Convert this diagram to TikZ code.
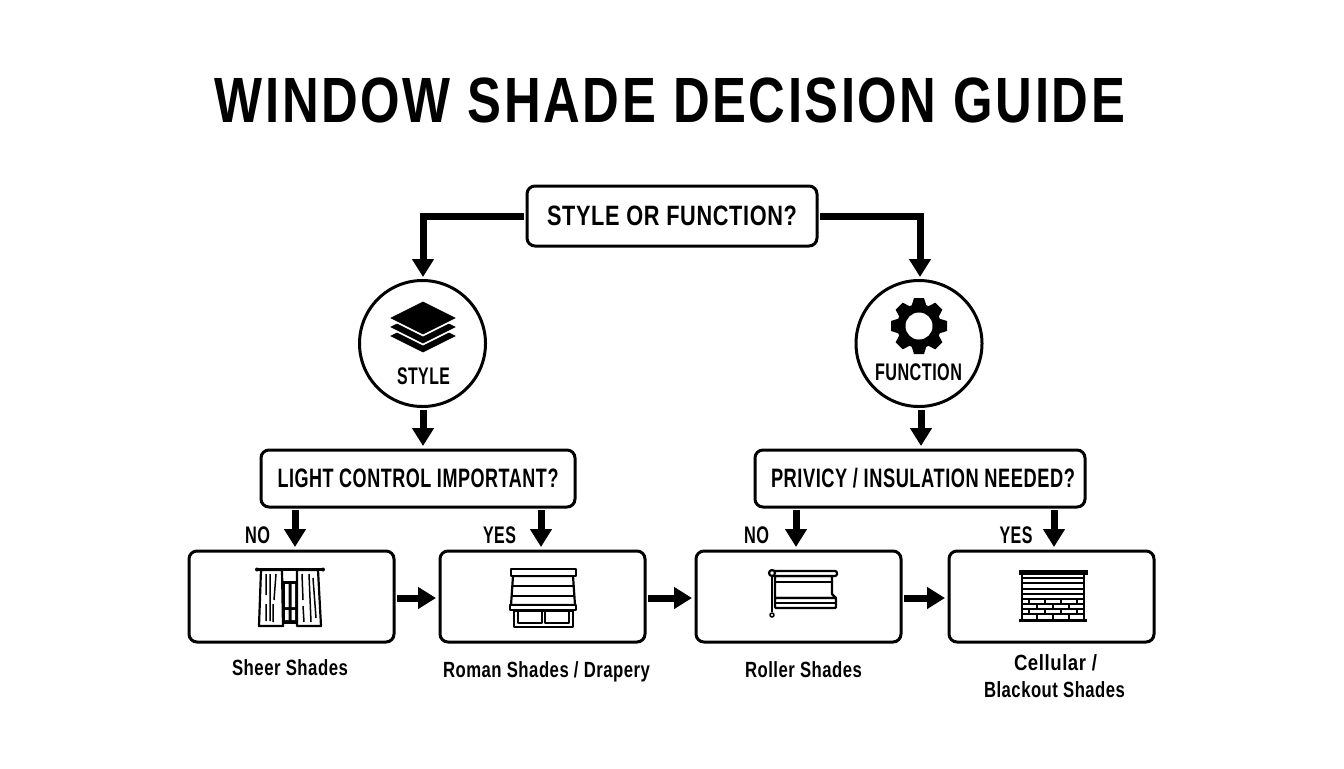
\documentclass[tikz,border=0pt]{standalone}
\usepackage{fontspec}
\usepackage{graphicx}
\setmainfont{Liberation Sans}
\usetikzlibrary{arrows.meta,calc}
\newlength\pxu
\setlength\pxu{0.75pt}
\newcommand\fw[3]{\resizebox{#1\pxu}{\height}{\fontsize{#2}{#2}\selectfont\bfseries\addfontfeatures{LetterSpace=3} #3}}
\newcommand\fwt[3]{\resizebox{#1\pxu}{\height}{\fontsize{#2}{#2}\selectfont\bfseries\addfontfeatures{LetterSpace=5}\spaceskip=.34em #3}}
\tikzset{
  bx/.style={draw=black,line width=3\pxu,rounded corners=8\pxu,fill=white,inner sep=0pt,outer sep=0pt},
  cir/.style={draw=black,line width=3\pxu,circle,fill=white,inner sep=0pt,outer sep=0pt,minimum size=126\pxu},
  lb/.style={inner sep=0pt,outer sep=0pt,text=black},
  flow/.style={line width=5.25pt,draw=black,-{Triangle[length=13.5pt,width=15.75pt]},shorten >=3pt,shorten <=2.25pt},
  ico/.style={line width=1.5\pxu,draw=black,line join=round},
  icot/.style={line width=2.2\pxu,draw=black,line join=round},
}
\begin{document}
\begin{tikzpicture}[x=0.75pt,y=-0.75pt]
\useasboundingbox (0,0) rectangle (1344,768);
\fill[white] (0,0) rectangle (1344,768);
% title
\node[lb] (title) at (670,100) {\fwt{910}{48}{WINDOW SHADE DECISION GUIDE}};
% boxes
\node[bx,minimum width=290\pxu,minimum height=60\pxu] (top) at (672,216) {\fw{250}{21}{STYLE OR FUNCTION?}};
\node[cir] (stylec) at (422.5,343.5) {};
\node[cir] (funcc) at (919,343.5) {};
\node[bx,minimum width=314\pxu,minimum height=57\pxu] (light) at (418,478.5) {\fw{281}{20}{LIGHT CONTROL IMPORTANT?}};
\node[bx,minimum width=330\pxu,minimum height=57\pxu] (priv) at (920,478.5) {\hspace*{6\pxu}\fw{304}{20}{PRIVICY / INSULATION NEEDED?}};
\node[bx,minimum width=205\pxu,minimum height=91\pxu] (b1) at (291.5,596.5) {};
\node[bx,minimum width=205\pxu,minimum height=91\pxu] (b2) at (542.5,596.5) {};
\node[bx,minimum width=205\pxu,minimum height=91\pxu] (b3) at (798.5,596.5) {};
\node[bx,minimum width=205\pxu,minimum height=91\pxu] (b4) at (1051.5,596.5) {};
% labels
\node[lb] (stylet) at (423.5,376) {\fw{53}{18}{STYLE}};
\node[lb] (funct) at (918.5,372) {\fw{87}{18}{FUNCTION}};
\node[lb] (no1) at (257.5,535) {\fw{25}{18}{NO}};
\node[lb] (yes1) at (499.5,535) {\fw{33}{18}{YES}};
\node[lb] (no2) at (756.5,535) {\fw{25}{18}{NO}};
\node[lb] (yes2) at (1016,535) {\fw{33}{18}{YES}};
\node[lb] (c1) at (290,668) {\fw{116}{16.5}{Sheer Shades}};
\node[lb] (c2) at (546.5,672) {\fw{207}{16.5}{Roman Shades / Drapery}};
\node[lb] (c3) at (803.5,670) {\fw{117}{16.5}{Roller Shades}};
\node[lb] (c4a) at (1055.5,663) {\fw{83}{16.5}{Cellular /}};
\node[lb] (c4b) at (1054.5,690) {\fw{141}{16.5}{Blackout Shades}};
% connectors
\coordinate (tl) at (423,281);
\coordinate (tr) at (920,281);
\coordinate (ml) at (423,407);
\coordinate (mr) at (921,407);
\draw[flow] (top.west) -| (tl);
\draw[flow] (top.east) -| (tr);
\draw[flow] (ml) -- (ml |- light.north);
\draw[flow] (mr) -- (mr |- priv.north);
\coordinate (n1) at (295,551);
\coordinate (n2) at (541,551);
\coordinate (n3) at (796,551);
\coordinate (n4) at (1054,551);
\draw[flow] (n1 |- light.south) -- (n1);
\draw[flow] (n2 |- light.south) -- (n2);
\draw[flow] (n3 |- priv.south) -- (n3);
\draw[flow] (n4 |- priv.south) -- (n4);
\draw[flow] ($(b1.east)+(0,1.5)$) -- ($(b2.west)+(0,1.5)$);
\draw[flow] ($(b2.east)+(0,1.5)$) -- ($(b3.west)+(0,1.5)$);
\draw[flow] ($(b3.east)+(0,1.5)$) -- ($(b4.west)+(0,1.5)$);
% stack icon
\begin{scope}[shift={(423,0)}]
\foreach \d in {18,9,0}{
  \draw[fill=black,draw=white,line width=1.6\pxu] (-35,318+\d) -- (0,300.5+\d) -- (35,318+\d) -- (0,335.5+\d) -- cycle;
}
\end{scope}
% gear icon
\begin{scope}[shift={(919,326)}]
\foreach \a in {0,45,...,315}{
  \fill[black,rotate=\a] (-7.5,-20) -- (-5,-28) -- (5,-28) -- (7.5,-20) -- cycle;
}
\fill[black] (0,0) circle (22);
\fill[white] (0,0) circle (13.5);
\end{scope}
% curtain icon
\draw[icot] (257,569.5) -- (323,569.5);
\fill (257,569.5) circle (2) (323,569.5) circle (2);
\fill[black] (283,581) rectangle (297,624);
\fill[white] (285,584) rectangle (288.5,607) (291.5,584) rectangle (295,607);
\fill[white] (285,610) rectangle (288.5,620) (291.5,610) rectangle (295,620);
\draw[ico] (283,570) -- (297,570);
\draw[icot,fill=white] (261,570) -- (282,570) -- (283,626) -- (259,626) -- cycle;
\draw[icot,fill=white] (297,570) -- (318,570) -- (321,626) -- (297,626) -- cycle;
\draw[ico] (266,574) -- (266,595) (266,604) -- (266,621) (270,574) -- (270,621) (276,574) -- (274,600) (273,604) -- (273,622);
\draw[ico] (302,574) -- (303,600) (303,606) -- (304,622) (309,574) -- (311,622) (313,578) -- (316,618);
% roman icon
\draw[icot] (514,611) rectangle (573,627);
\draw[ico] (518,611) rectangle (542,623) (545,611) rectangle (569,623);
\draw[icot,fill=white] (513,576) -- (573,576) -- (575,605) -- (511,605) -- cycle;
\draw[icot] (513,586) -- (573,586) (512,596) -- (574,596);
\draw[icot,fill=white] (511,569) rectangle (576,576);
\draw[icot,fill=white] (510,605) rectangle (576,610);
% roller icon
\draw[icot,fill=white] (775,576) -- (832,576) -- (832,594) -- (836,598) -- (775,598) -- cycle;
\draw[icot] (775,582) -- (832,582);
\draw[icot,fill=white,rounded corners=1\pxu] (775,598) -- (836,598) -- (836,608) -- (775,608) -- cycle;
\draw[icot] (775,603) -- (836,603);
\draw[icot,fill=white,rounded corners=2\pxu] (772,571) rectangle (837,576);
\draw[icot] (772,576) -- (772,612);
\draw[icot,fill=white] (772,573) circle (3);
\draw[ico,fill=white] (772,615) circle (2);
% cellular icon
\fill[black] (1019,570) rectangle (1088,575);
\draw[icot] (1022,575) -- (1022,619) (1084,575) -- (1084,619);
\foreach \yy in {578,583,589,594}{ \draw[icot] (1022,\yy) -- (1084,\yy); }
\foreach \yy in {599,604,609,614}{ \draw[ico,line width=1.8\pxu] (1022,\yy) -- (1084,\yy); }
\foreach \xx in {1029,1045,1061,1077}{ \draw[icot] (\xx,599) -- (\xx,604); \draw[icot] (\xx,609) -- (\xx,614); }
\foreach \xx in {1037,1053,1069}{ \draw[icot] (\xx,604) -- (\xx,609); \draw[icot] (\xx,614) -- (\xx,619); }
\fill[black] (1019,619) rectangle (1087,622);
\end{tikzpicture}
\end{document}
